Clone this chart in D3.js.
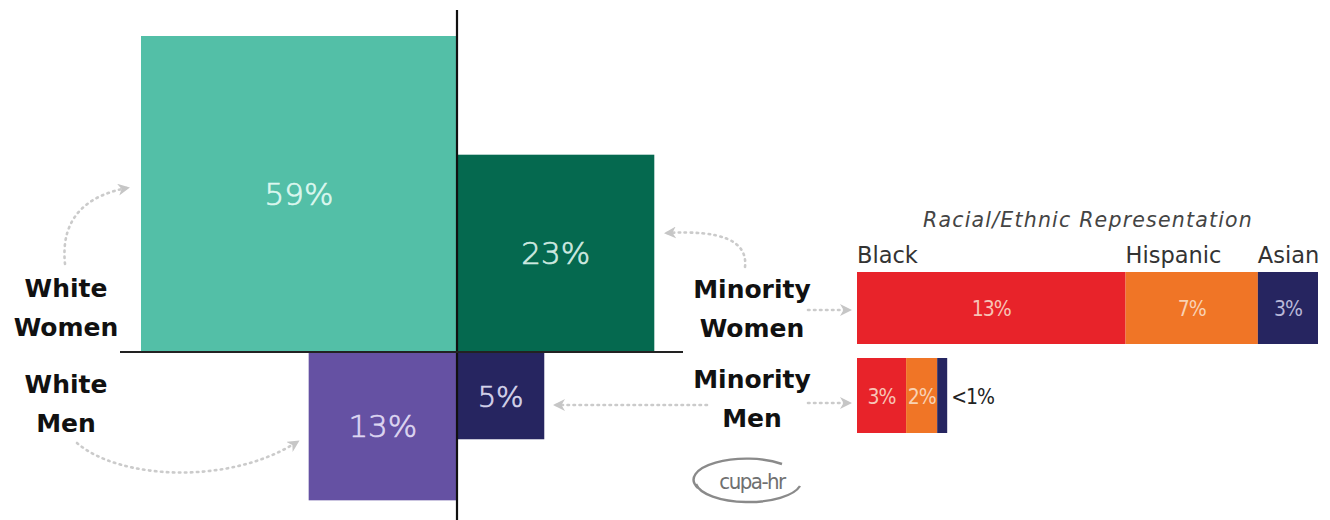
<!DOCTYPE html>
<html>
<head>
<meta charset="utf-8">
<script src="https://cdn.jsdelivr.net/npm/d3@7"></script>
<style>
  html, body { margin: 0; padding: 0; background: #ffffff; }
  svg { display: block; }
</style>
</head>
<body>
<svg id="chart" width="1330" height="520"></svg>
<script>
// ---------------- DATA ----------------
const groups      = ["White Women", "Minority Women", "White Men", "Minority Men"];
const groupRace   = ["White", "Minority", "White", "Minority"];
const groupGender = ["Women", "Women", "Men", "Men"];
const groupShares = [59, 23, 13, 4.5];
const groupLabels = ["59%", "23%", "13%", "5%"];

const ethnicities   = ["Black", "Hispanic", "Asian"];
const minorityWomen = [13.4, 6.6, 3.0];
const minorityWomenLabels = ["13%", "7%", "3%"];
const minorityMen   = [2.45, 1.55, 0.5];
const minorityMenLabels = ["3%", "2%", "<1%"];

const subtitle = "Racial/Ethnic Representation";
const logoText = "cupa-hr";

// ---------------- STYLE ----------------
const groupColors = {"White Women": "#53bfa7", "Minority Women": "#05694f", "White Men": "#6551a3", "Minority Men": "#262560"};
const groupTextColors = {"White Women": "#dcf7ef", "Minority Women": "#cfe9e0", "White Men": "#ddd6f1", "Minority Men": "#d4d3ea"};
const ethColors = {"Black": "#e8232a", "Hispanic": "#f07526", "Asian": "#262560"};
const ethTextColors = {"Black": "#f7c4b6", "Hispanic": "#f9d2b4", "Asian": "#b8b8d8"};

const svg = d3.select("#chart");

// ---------------- LAYOUT ----------------
const axisX = 457, axisY = 352;
const side = d3.scaleSqrt().domain([0, 59]).range([0, 316]);

const squares = groups.map((g, i) => {
  const s = side(groupShares[i]);
  const left = groupRace[i] === "White";
  const up = groupGender[i] === "Women";
  return {
    name: g, label: groupLabels[i], s,
    x: left ? axisX - s : axisX,
    y: up ? axisY - s : axisY
  };
});

// dotted arrows (drawn first, beneath)
const defs = svg.append("defs");
defs.append("marker")
  .attr("id", "ah").attr("viewBox", "0 0 12 12")
  .attr("refX", 9).attr("refY", 6)
  .attr("markerWidth", 12).attr("markerHeight", 12)
  .attr("markerUnits", "userSpaceOnUse")
  .attr("orient", "auto")
  .append("path").attr("d", "M0,0 L12,6 L0,12 L3.5,6 Z").attr("fill", "#c6c6c6");

const arrowPaths = [
  "M65,264 C60,215 90,195 127,188",          // White Women -> square
  "M77,443 C120,480 230,485 297,442",        // White Men -> square
  "M745,267 C748,240 720,230 667,233",       // Minority Women -> square
  "M707,405 L556,405",                        // Minority Men -> square
  "M808,310 L849,310",                        // Minority Women -> bar
  "M808,403 L849,403"                         // Minority Men -> bar
];
svg.append("g").selectAll("path").data(arrowPaths).join("path")
  .attr("d", d => d)
  .attr("fill", "none")
  .attr("stroke", "#cbcbcb")
  .attr("stroke-width", 2.6)
  .attr("stroke-linecap", "round")
  .attr("stroke-dasharray", "1.5,4.5")
  .attr("marker-end", "url(#ah)");

// squares
const sq = svg.append("g");
sq.selectAll("rect").data(squares).join("rect")
  .attr("x", d => d.x).attr("y", d => d.y)
  .attr("width", d => d.s).attr("height", d => d.s)
  .attr("fill", d => groupColors[d.name]);

sq.selectAll("text").data(squares).join("text")
  .attr("x", d => d.x + d.s / 2)
  .attr("y", d => d.y + d.s / 2 + 11)
  .attr("text-anchor", "middle")
  .attr("font-family", "DejaVu Sans")
  .attr("font-weight", 200)
  .attr("font-size", d => d.name === "Minority Men" ? 29 : 31)
  .attr("fill", d => groupTextColors[d.name])
  .attr("stroke", d => groupTextColors[d.name])
  .attr("stroke-width", 0.7)
  .text(d => d.label);

// axes
svg.append("line").attr("x1", axisX).attr("x2", axisX).attr("y1", 10).attr("y2", 520)
  .attr("stroke", "#111").attr("stroke-width", 2.2);
svg.append("line").attr("x1", 120).attr("x2", 683).attr("y1", axisY).attr("y2", axisY)
  .attr("stroke", "#222").attr("stroke-width", 2.2);

// group labels
const groupLabelPos = [
  {x: 66, y: 297}, {x: 752, y: 298}, {x: 66, y: 393}, {x: 752, y: 388}
];
groups.forEach((g, i) => {
  const t = svg.append("text")
    .attr("x", groupLabelPos[i].x).attr("y", groupLabelPos[i].y)
    .attr("text-anchor", "middle")
    .attr("font-family", "DejaVu Sans")
    .attr("font-weight", "bold")
    .attr("font-size", 25)
    .attr("fill", "#111");
  t.append("tspan").attr("x", groupLabelPos[i].x).text(groupRace[i]);
  t.append("tspan").attr("x", groupLabelPos[i].x).attr("dy", 39).text(groupGender[i]);
});

// ---------------- RIGHT: stacked bars ----------------
const barX0 = 857;
const xBar = d3.scaleLinear().domain([0, 23]).range([barX0, barX0 + 461]);

function stackRow(vals) {
  let acc = 0;
  return vals.map((v, i) => { const r = {eth: ethnicities[i], x0: acc, x1: acc + v}; acc += v; return r; });
}
const rows = [
  {vals: minorityWomen, labels: minorityWomenLabels, y: 272, h: 72},
  {vals: minorityMen, labels: minorityMenLabels, y: 358, h: 75}
];

const bars = svg.append("g");
rows.forEach((row, ri) => {
  const st = stackRow(row.vals);
  bars.append("g").selectAll("rect").data(st).join("rect")
    .attr("x", d => xBar(d.x0)).attr("y", row.y)
    .attr("width", d => xBar(d.x1) - xBar(d.x0)).attr("height", row.h)
    .attr("fill", d => ethColors[d.eth]);
  bars.append("g").selectAll("text").data(st).join("text")
    .attr("x", (d, i) => (ri === 1 && i === 2) ? xBar(d.x1) + 4 : (xBar(d.x0) + xBar(d.x1)) / 2)
    .attr("y", row.y + row.h / 2 + 8)
    .attr("text-anchor", (d, i) => (ri === 1 && i === 2) ? "start" : "middle")
    .attr("font-family", "DejaVu Sans Condensed, DejaVu Sans")
    .attr("font-stretch", "condensed")
    .attr("font-size", 21)
    .attr("letter-spacing", -1)
    .attr("fill", (d, i) => (ri === 1 && i === 2) ? "#222" : ethTextColors[d.eth])
    .text((d, i) => row.labels[i]);
});

// category labels above top bar
const stTop = stackRow(minorityWomen);
svg.append("g").selectAll("text").data(stTop).join("text")
  .attr("x", d => xBar(d.x0))
  .attr("y", 263)
  .attr("font-family", "DejaVu Sans")
  .attr("font-size", 22.5)
  .attr("fill", "#333")
  .text(d => d.eth);

svg.append("text")
  .attr("x", 1088).attr("y", 227)
  .attr("text-anchor", "middle")
  .attr("font-family", "DejaVu Sans")
  .attr("font-style", "italic")
  .attr("font-size", 20.5)
  .attr("letter-spacing", 1.2)
  .attr("fill", "#444")
  .text(subtitle);

// ---------------- logo ----------------
const logo = svg.append("g").attr("transform", "translate(748,482)");
logo.append("path")
  .attr("d", "M-50,6 A53,21 0 0 1 34,-18")
  .attr("fill", "none").attr("stroke", "#8a8a8a").attr("stroke-width", 2.4);
logo.append("path")
  .attr("d", "M-52,2 A53,21 0 0 0 52,4")
  .attr("fill", "none").attr("stroke", "#8a8a8a").attr("stroke-width", 2.4);
logo.append("text")
  .attr("x", 4).attr("y", 7)
  .attr("text-anchor", "middle")
  .attr("font-family", "DejaVu Sans Condensed, DejaVu Sans")
  .attr("font-size", 22)
  .attr("letter-spacing", -1.5)
  .attr("fill", "#707070")
  .text(logoText);
</script>
</body>
</html>
